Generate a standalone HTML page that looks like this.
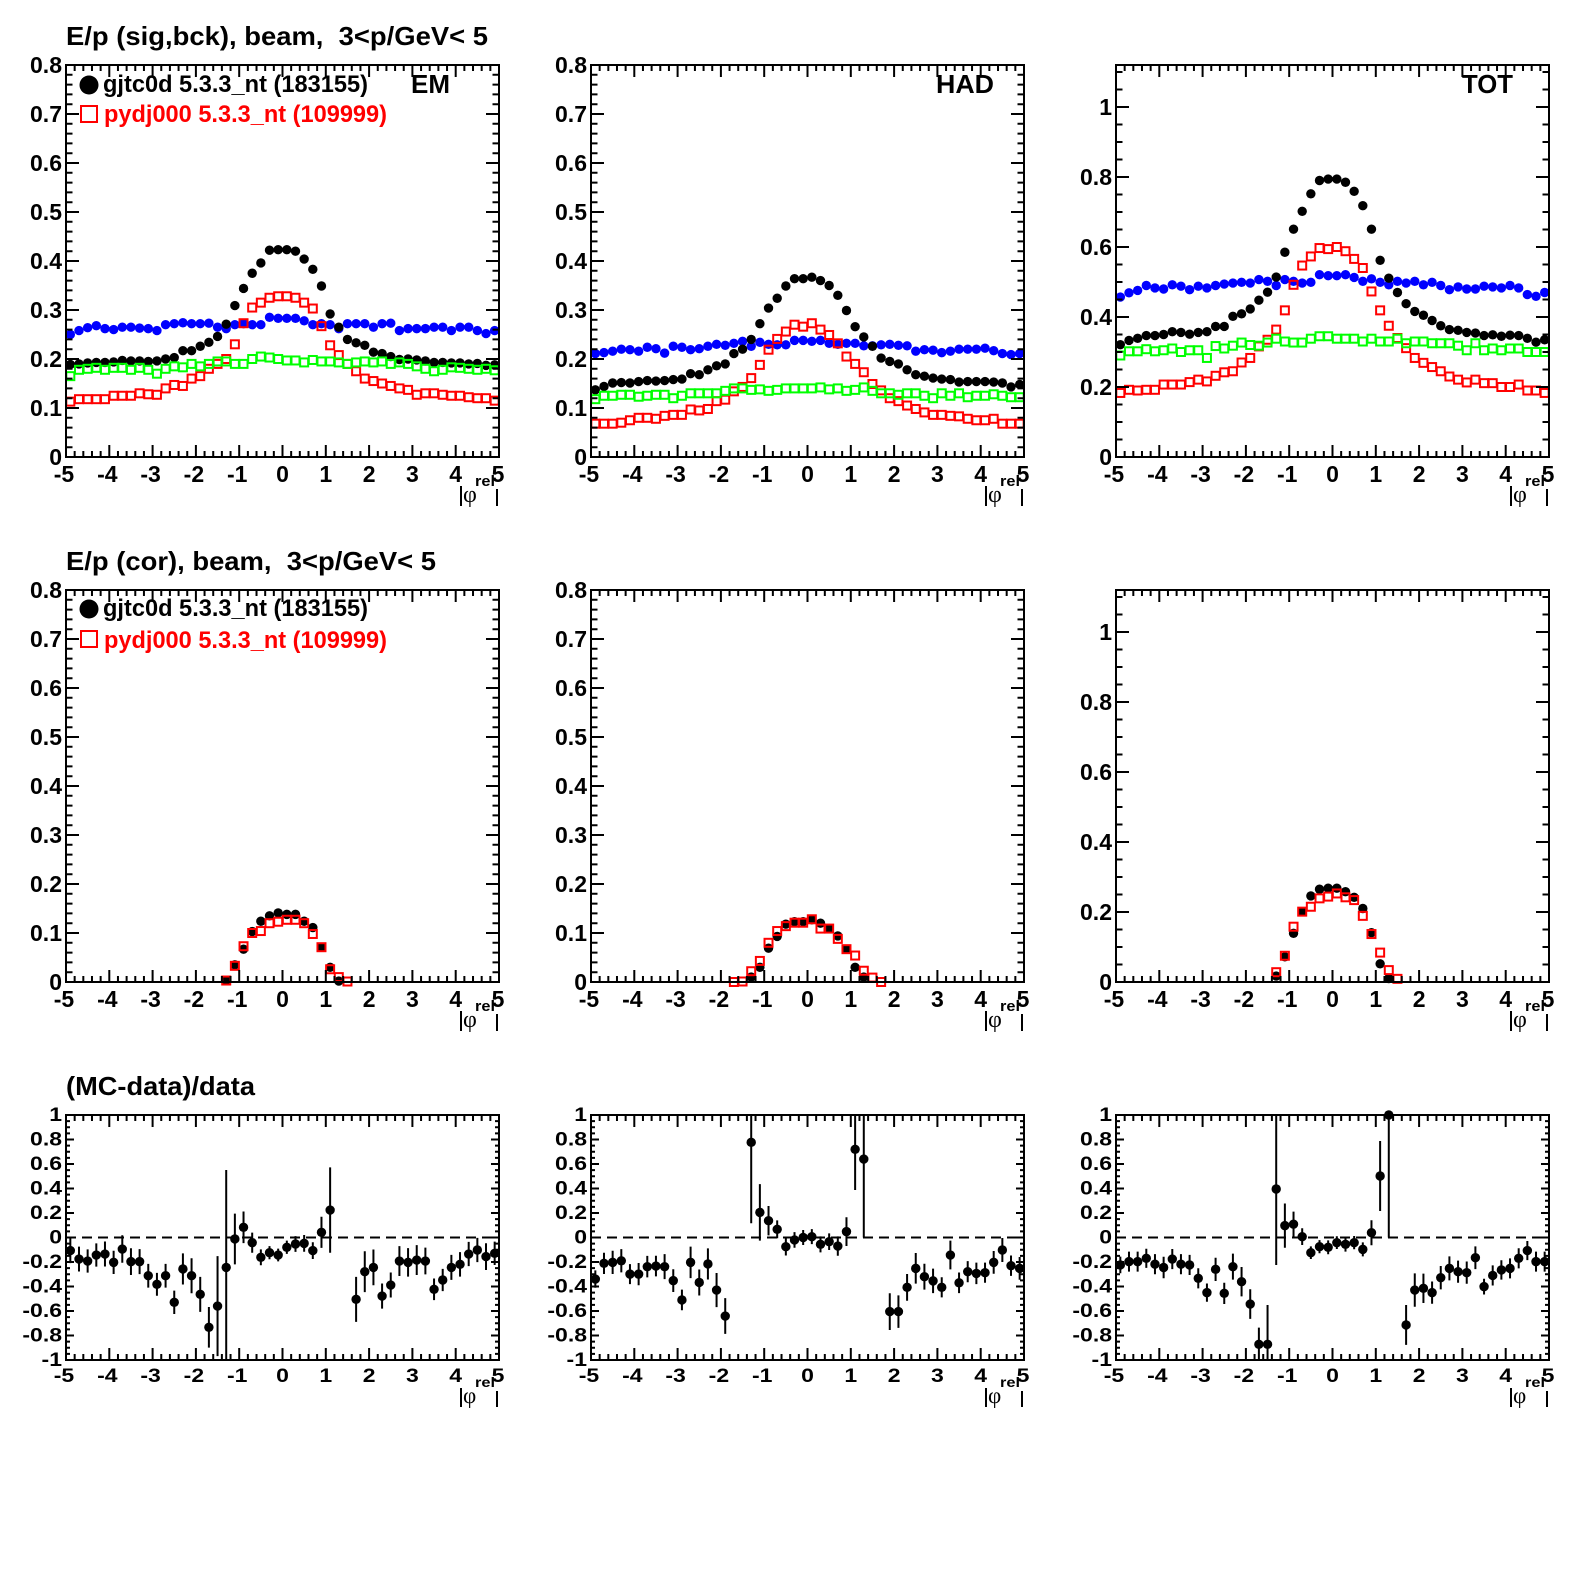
<!DOCTYPE html>
<html><head><meta charset="utf-8">
<style>
html,body{margin:0;padding:0;background:#fff;}
svg{display:block;}
text{font-family:"Liberation Sans",Arial,sans-serif;font-weight:bold;white-space:pre;fill:#000;}
.sym{font-family:"Liberation Serif","DejaVu Serif",serif;font-weight:normal;}
</style></head>
<body>
<svg id="s" xmlns="http://www.w3.org/2000/svg" width="1575" height="1575" viewBox="0 0 1575 1575">
<rect width="1575" height="1575" fill="#fff"/>
<g id="dat"></g>
<path id="ax" d="" fill="none" stroke="#000" stroke-width="2"/>

<!-- Titles -->
<text x="66" y="45" font-size="26" textLength="422" lengthAdjust="spacingAndGlyphs">E/p (sig,bck), beam,  3&lt;p/GeV&lt; 5</text>
<text x="66" y="570" font-size="26" textLength="370" lengthAdjust="spacingAndGlyphs">E/p (cor), beam,  3&lt;p/GeV&lt; 5</text>
<text x="66" y="1095" font-size="26" textLength="189" lengthAdjust="spacingAndGlyphs">(MC-data)/data</text>

<!-- Legends -->
<g>
<circle cx="89" cy="85" r="9.5" fill="#000"/>
<text x="103" y="92" font-size="23.6" textLength="265" lengthAdjust="spacingAndGlyphs">gjtc0d 5.3.3_nt (183155)</text>
<rect x="81" y="106" width="16" height="16" fill="none" stroke="#ff0000" stroke-width="2"/>
<text x="104" y="122" font-size="23.6" textLength="283" lengthAdjust="spacingAndGlyphs" style="fill:#ff0000">pydj000 5.3.3_nt (109999)</text>
</g>
<g transform="translate(0,524)">
<circle cx="89" cy="85" r="9.5" fill="#000"/>
<text x="103" y="92" font-size="23.6" textLength="265" lengthAdjust="spacingAndGlyphs">gjtc0d 5.3.3_nt (183155)</text>
<rect x="81" y="107" width="16" height="16" fill="none" stroke="#ff0000" stroke-width="2"/>
<text x="104" y="124" font-size="23.6" textLength="283" lengthAdjust="spacingAndGlyphs" style="fill:#ff0000">pydj000 5.3.3_nt (109999)</text>
</g>

<!-- Panel labels -->
<text x="411" y="93" font-size="26" textLength="39" lengthAdjust="spacingAndGlyphs">EM</text>
<text x="936" y="93" font-size="26" textLength="58" lengthAdjust="spacingAndGlyphs">HAD</text>
<text x="1462" y="93" font-size="26" textLength="51" lengthAdjust="spacingAndGlyphs">TOT</text>

<!-- EM-type panel labels (0..0.8), rows 1-2, cols 1-2 -->
<g transform="translate(0,0)">
<g font-size="23" text-anchor="end">
<text x="62" y="73">0.8</text><text x="62" y="122">0.7</text><text x="62" y="171">0.6</text><text x="62" y="220">0.5</text><text x="62" y="269">0.4</text><text x="62" y="318">0.3</text><text x="62" y="367">0.2</text><text x="62" y="416">0.1</text><text x="62" y="465">0</text>
</g>
<g font-size="23" text-anchor="middle">
<text x="64" y="482">-5</text><text x="107.3" y="482">-4</text><text x="150.6" y="482">-3</text><text x="193.9" y="482">-2</text><text x="237.2" y="482">-1</text><text x="282.5" y="482">0</text><text x="325.8" y="482">1</text><text x="369.1" y="482">2</text><text x="412.4" y="482">3</text><text x="455.7" y="482">4</text><text x="498" y="482">5</text>
</g>
<line x1="461" y1="486" x2="461" y2="506" stroke="#000" stroke-width="2"/>
<text class="sym" x="463" y="502" font-size="24">φ</text>
<text x="475" y="486" font-size="15" textLength="20" lengthAdjust="spacingAndGlyphs">rel</text>
<line x1="497" y1="489" x2="497" y2="506" stroke="#000" stroke-width="2"/>
</g>

<g transform="translate(525,0)">
<g font-size="23" text-anchor="end">
<text x="62" y="73">0.8</text><text x="62" y="122">0.7</text><text x="62" y="171">0.6</text><text x="62" y="220">0.5</text><text x="62" y="269">0.4</text><text x="62" y="318">0.3</text><text x="62" y="367">0.2</text><text x="62" y="416">0.1</text><text x="62" y="465">0</text>
</g>
<g font-size="23" text-anchor="middle">
<text x="64" y="482">-5</text><text x="107.3" y="482">-4</text><text x="150.6" y="482">-3</text><text x="193.9" y="482">-2</text><text x="237.2" y="482">-1</text><text x="282.5" y="482">0</text><text x="325.8" y="482">1</text><text x="369.1" y="482">2</text><text x="412.4" y="482">3</text><text x="455.7" y="482">4</text><text x="498" y="482">5</text>
</g>
<line x1="461" y1="486" x2="461" y2="506" stroke="#000" stroke-width="2"/>
<text class="sym" x="463" y="502" font-size="24">φ</text>
<text x="475" y="486" font-size="15" textLength="20" lengthAdjust="spacingAndGlyphs">rel</text>
<line x1="497" y1="489" x2="497" y2="506" stroke="#000" stroke-width="2"/>
</g>

<g transform="translate(0,525)">
<g font-size="23" text-anchor="end">
<text x="62" y="73">0.8</text><text x="62" y="122">0.7</text><text x="62" y="171">0.6</text><text x="62" y="220">0.5</text><text x="62" y="269">0.4</text><text x="62" y="318">0.3</text><text x="62" y="367">0.2</text><text x="62" y="416">0.1</text><text x="62" y="465">0</text>
</g>
<g font-size="23" text-anchor="middle">
<text x="64" y="482">-5</text><text x="107.3" y="482">-4</text><text x="150.6" y="482">-3</text><text x="193.9" y="482">-2</text><text x="237.2" y="482">-1</text><text x="282.5" y="482">0</text><text x="325.8" y="482">1</text><text x="369.1" y="482">2</text><text x="412.4" y="482">3</text><text x="455.7" y="482">4</text><text x="498" y="482">5</text>
</g>
<line x1="461" y1="486" x2="461" y2="506" stroke="#000" stroke-width="2"/>
<text class="sym" x="463" y="502" font-size="24">φ</text>
<text x="475" y="486" font-size="15" textLength="20" lengthAdjust="spacingAndGlyphs">rel</text>
<line x1="497" y1="489" x2="497" y2="506" stroke="#000" stroke-width="2"/>
</g>

<g transform="translate(525,525)">
<g font-size="23" text-anchor="end">
<text x="62" y="73">0.8</text><text x="62" y="122">0.7</text><text x="62" y="171">0.6</text><text x="62" y="220">0.5</text><text x="62" y="269">0.4</text><text x="62" y="318">0.3</text><text x="62" y="367">0.2</text><text x="62" y="416">0.1</text><text x="62" y="465">0</text>
</g>
<g font-size="23" text-anchor="middle">
<text x="64" y="482">-5</text><text x="107.3" y="482">-4</text><text x="150.6" y="482">-3</text><text x="193.9" y="482">-2</text><text x="237.2" y="482">-1</text><text x="282.5" y="482">0</text><text x="325.8" y="482">1</text><text x="369.1" y="482">2</text><text x="412.4" y="482">3</text><text x="455.7" y="482">4</text><text x="498" y="482">5</text>
</g>
<line x1="461" y1="486" x2="461" y2="506" stroke="#000" stroke-width="2"/>
<text class="sym" x="463" y="502" font-size="24">φ</text>
<text x="475" y="486" font-size="15" textLength="20" lengthAdjust="spacingAndGlyphs">rel</text>
<line x1="497" y1="489" x2="497" y2="506" stroke="#000" stroke-width="2"/>
</g>

<!-- TOT panels rows 1-2 -->
<g transform="translate(1050,0)">
<g font-size="23" text-anchor="end">
<text x="62" y="115">1</text><text x="62" y="185">0.8</text><text x="62" y="255">0.6</text><text x="62" y="325">0.4</text><text x="62" y="395">0.2</text><text x="62" y="465">0</text>
</g>
<g font-size="23" text-anchor="middle">
<text x="64" y="482">-5</text><text x="107.3" y="482">-4</text><text x="150.6" y="482">-3</text><text x="193.9" y="482">-2</text><text x="237.2" y="482">-1</text><text x="282.5" y="482">0</text><text x="325.8" y="482">1</text><text x="369.1" y="482">2</text><text x="412.4" y="482">3</text><text x="455.7" y="482">4</text><text x="498" y="482">5</text>
</g>
<line x1="461" y1="486" x2="461" y2="506" stroke="#000" stroke-width="2"/>
<text class="sym" x="463" y="502" font-size="24">φ</text>
<text x="475" y="486" font-size="15" textLength="20" lengthAdjust="spacingAndGlyphs">rel</text>
<line x1="497" y1="489" x2="497" y2="506" stroke="#000" stroke-width="2"/>
</g>

<g transform="translate(1050,525)">
<g font-size="23" text-anchor="end">
<text x="62" y="115">1</text><text x="62" y="185">0.8</text><text x="62" y="255">0.6</text><text x="62" y="325">0.4</text><text x="62" y="395">0.2</text><text x="62" y="465">0</text>
</g>
<g font-size="23" text-anchor="middle">
<text x="64" y="482">-5</text><text x="107.3" y="482">-4</text><text x="150.6" y="482">-3</text><text x="193.9" y="482">-2</text><text x="237.2" y="482">-1</text><text x="282.5" y="482">0</text><text x="325.8" y="482">1</text><text x="369.1" y="482">2</text><text x="412.4" y="482">3</text><text x="455.7" y="482">4</text><text x="498" y="482">5</text>
</g>
<line x1="461" y1="486" x2="461" y2="506" stroke="#000" stroke-width="2"/>
<text class="sym" x="463" y="502" font-size="24">φ</text>
<text x="475" y="486" font-size="15" textLength="20" lengthAdjust="spacingAndGlyphs">rel</text>
<line x1="497" y1="489" x2="497" y2="506" stroke="#000" stroke-width="2"/>
</g>

<!-- Row 3 panels -->
<g transform="translate(0,0)">
<g font-size="23" text-anchor="end">
<text transform="translate(62,1121) scale(1,0.85)">1</text>
<text transform="translate(62,1145.5) scale(1,0.85)">0.8</text>
<text transform="translate(62,1170) scale(1,0.85)">0.6</text>
<text transform="translate(62,1194.5) scale(1,0.85)">0.4</text>
<text transform="translate(62,1219) scale(1,0.85)">0.2</text>
<text transform="translate(62,1243.5) scale(1,0.85)">0</text>
<text transform="translate(62,1268) scale(1,0.85)">-0.2</text>
<text transform="translate(62,1292.5) scale(1,0.85)">-0.4</text>
<text transform="translate(62,1317) scale(1,0.85)">-0.6</text>
<text transform="translate(62,1341.5) scale(1,0.85)">-0.8</text>
<text transform="translate(62,1366) scale(1,0.85)">-1</text>
</g>
<g font-size="23" text-anchor="middle">
<text transform="translate(64,1382) scale(1,0.85)">-5</text>
<text transform="translate(107.3,1382) scale(1,0.85)">-4</text>
<text transform="translate(150.6,1382) scale(1,0.85)">-3</text>
<text transform="translate(193.9,1382) scale(1,0.85)">-2</text>
<text transform="translate(237.2,1382) scale(1,0.85)">-1</text>
<text transform="translate(282.5,1382) scale(1,0.85)">0</text>
<text transform="translate(325.8,1382) scale(1,0.85)">1</text>
<text transform="translate(369.1,1382) scale(1,0.85)">2</text>
<text transform="translate(412.4,1382) scale(1,0.85)">3</text>
<text transform="translate(455.7,1382) scale(1,0.85)">4</text>
<text transform="translate(498,1382) scale(1,0.85)">5</text>
</g>
<line x1="461" y1="1388" x2="461" y2="1407" stroke="#000" stroke-width="2"/>
<text class="sym" x="463" y="1403" font-size="23">φ</text>
<text x="475" y="1387" font-size="14" textLength="20" lengthAdjust="spacingAndGlyphs">rel</text>
<line x1="497" y1="1391" x2="497" y2="1407" stroke="#000" stroke-width="2"/>
</g>

<g transform="translate(525,0)">
<g font-size="23" text-anchor="end">
<text transform="translate(62,1121) scale(1,0.85)">1</text>
<text transform="translate(62,1145.5) scale(1,0.85)">0.8</text>
<text transform="translate(62,1170) scale(1,0.85)">0.6</text>
<text transform="translate(62,1194.5) scale(1,0.85)">0.4</text>
<text transform="translate(62,1219) scale(1,0.85)">0.2</text>
<text transform="translate(62,1243.5) scale(1,0.85)">0</text>
<text transform="translate(62,1268) scale(1,0.85)">-0.2</text>
<text transform="translate(62,1292.5) scale(1,0.85)">-0.4</text>
<text transform="translate(62,1317) scale(1,0.85)">-0.6</text>
<text transform="translate(62,1341.5) scale(1,0.85)">-0.8</text>
<text transform="translate(62,1366) scale(1,0.85)">-1</text>
</g>
<g font-size="23" text-anchor="middle">
<text transform="translate(64,1382) scale(1,0.85)">-5</text>
<text transform="translate(107.3,1382) scale(1,0.85)">-4</text>
<text transform="translate(150.6,1382) scale(1,0.85)">-3</text>
<text transform="translate(193.9,1382) scale(1,0.85)">-2</text>
<text transform="translate(237.2,1382) scale(1,0.85)">-1</text>
<text transform="translate(282.5,1382) scale(1,0.85)">0</text>
<text transform="translate(325.8,1382) scale(1,0.85)">1</text>
<text transform="translate(369.1,1382) scale(1,0.85)">2</text>
<text transform="translate(412.4,1382) scale(1,0.85)">3</text>
<text transform="translate(455.7,1382) scale(1,0.85)">4</text>
<text transform="translate(498,1382) scale(1,0.85)">5</text>
</g>
<line x1="461" y1="1388" x2="461" y2="1407" stroke="#000" stroke-width="2"/>
<text class="sym" x="463" y="1403" font-size="23">φ</text>
<text x="475" y="1387" font-size="14" textLength="20" lengthAdjust="spacingAndGlyphs">rel</text>
<line x1="497" y1="1391" x2="497" y2="1407" stroke="#000" stroke-width="2"/>
</g>

<g transform="translate(1050,0)">
<g font-size="23" text-anchor="end">
<text transform="translate(62,1121) scale(1,0.85)">1</text>
<text transform="translate(62,1145.5) scale(1,0.85)">0.8</text>
<text transform="translate(62,1170) scale(1,0.85)">0.6</text>
<text transform="translate(62,1194.5) scale(1,0.85)">0.4</text>
<text transform="translate(62,1219) scale(1,0.85)">0.2</text>
<text transform="translate(62,1243.5) scale(1,0.85)">0</text>
<text transform="translate(62,1268) scale(1,0.85)">-0.2</text>
<text transform="translate(62,1292.5) scale(1,0.85)">-0.4</text>
<text transform="translate(62,1317) scale(1,0.85)">-0.6</text>
<text transform="translate(62,1341.5) scale(1,0.85)">-0.8</text>
<text transform="translate(62,1366) scale(1,0.85)">-1</text>
</g>
<g font-size="23" text-anchor="middle">
<text transform="translate(64,1382) scale(1,0.85)">-5</text>
<text transform="translate(107.3,1382) scale(1,0.85)">-4</text>
<text transform="translate(150.6,1382) scale(1,0.85)">-3</text>
<text transform="translate(193.9,1382) scale(1,0.85)">-2</text>
<text transform="translate(237.2,1382) scale(1,0.85)">-1</text>
<text transform="translate(282.5,1382) scale(1,0.85)">0</text>
<text transform="translate(325.8,1382) scale(1,0.85)">1</text>
<text transform="translate(369.1,1382) scale(1,0.85)">2</text>
<text transform="translate(412.4,1382) scale(1,0.85)">3</text>
<text transform="translate(455.7,1382) scale(1,0.85)">4</text>
<text transform="translate(498,1382) scale(1,0.85)">5</text>
</g>
<line x1="461" y1="1388" x2="461" y2="1407" stroke="#000" stroke-width="2"/>
<text class="sym" x="463" y="1403" font-size="23">φ</text>
<text x="475" y="1387" font-size="14" textLength="20" lengthAdjust="spacingAndGlyphs">rel</text>
<line x1="497" y1="1391" x2="497" y2="1407" stroke="#000" stroke-width="2"/>
</g>
</svg>
<script>
(function(){
var NS='http://www.w3.org/2000/svg';
var gD=document.getElementById('dat');
function mk(t,a){var e=document.createElementNS(NS,t);for(var k in a)e.setAttribute(k,a[k]);gD.appendChild(e);return e;}
var axD='';
function axes(L,T,R,B,y0,y1,maj,mn,xM,xm,yM,ym){
  var d='',k,x,l;
  for(k=0;k<=50;k++){x=(L+(R-L)*k/50).toFixed(2);l=(k%5===0)?xM:xm;d+='M'+x+' '+B+'v'+(-l)+'M'+x+' '+T+'v'+l;}
  var r=Math.round(maj/mn);
  var s=Math.round(y0/mn), e=Math.round(y1/mn+1e-6);
  if(e*mn>y1+1e-6)e--;
  for(var i=s;i<=e;i++){var v=i*mn;var y=(B-(v-y0)/(y1-y0)*(B-T)).toFixed(2);l=((((i%r)+r)%r)===0)?yM:ym;d+='M'+L+' '+y+'h'+l+'M'+R+' '+y+'h'+(-l);}
  d+='M'+L+' '+T+'H'+R+'V'+B+'H'+L+'Z';
  axD+=d;
}
function X(L,R,x){return L+(x+5)/10*(R-L);}
function Y(T,B,y0,y1,v){return B-(v-y0)/(y1-y0)*(B-T);}
function circ(x,y,c){mk('circle',{cx:x.toFixed(2),cy:y.toFixed(2),r:4.7,fill:c});}
function sq(x,y,c){mk('rect',{x:(x-4).toFixed(2),y:(y-4).toFixed(2),width:8,height:8,fill:'none',stroke:c,'stroke-width':2});}

var EMk=[.189,.19,.192,.193,.193,.194,.197,.196,.196,.195,.196,.2,.203,.217,.217,.226,.234,.246,.271,.309,.344,.375,.396,.422,.423,.423,.42,.404,.383,.349,.292,.265,.24,.233,.228,.214,.211,.205,.199,.2,.198,.196,.193,.193,.192,.192,.19,.191,.187,.188];
var EMr=[.113,.118,.118,.118,.118,.125,.125,.125,.13,.128,.127,.14,.147,.145,.16,.165,.18,.19,.2,.23,.273,.305,.315,.325,.328,.328,.325,.315,.303,.267,.228,.208,.19,.175,.16,.155,.15,.145,.14,.137,.127,.13,.13,.127,.125,.125,.122,.12,.12,.115];
var EMb=[.25,.258,.264,.268,.262,.26,.265,.265,.263,.262,.258,.27,.272,.274,.272,.272,.273,.265,.262,.27,.272,.27,.27,.285,.283,.283,.283,.278,.27,.272,.27,.262,.272,.272,.272,.265,.272,.273,.258,.262,.262,.262,.265,.265,.258,.265,.265,.258,.252,.258];
var EMg=[.165,.178,.18,.182,.178,.182,.182,.178,.182,.178,.17,.18,.185,.183,.19,.185,.19,.195,.195,.19,.19,.2,.205,.203,.2,.197,.197,.193,.198,.195,.195,.193,.19,.193,.195,.193,.195,.19,.193,.19,.185,.18,.175,.178,.183,.182,.18,.178,.18,.177];

var HDk=[.137,.144,.151,.152,.151,.154,.156,.155,.156,.158,.159,.17,.168,.178,.186,.19,.211,.22,.24,.272,.304,.324,.349,.364,.364,.367,.36,.35,.33,.299,.266,.245,.226,.202,.195,.19,.178,.168,.165,.161,.159,.158,.153,.154,.154,.154,.153,.151,.143,.148];
var HDr=[.068,.068,.068,.07,.075,.08,.08,.078,.084,.086,.086,.097,.095,.098,.114,.117,.134,.143,.161,.188,.219,.241,.256,.27,.266,.273,.26,.249,.232,.205,.19,.173,.149,.136,.12,.114,.105,.098,.091,.086,.086,.084,.083,.078,.075,.075,.078,.068,.068,.068];
var HDb=[.211,.213,.216,.22,.219,.216,.224,.221,.212,.226,.224,.219,.221,.226,.23,.228,.232,.236,.226,.234,.23,.229,.229,.238,.238,.236,.238,.232,.23,.232,.232,.227,.227,.229,.23,.228,.227,.216,.219,.218,.213,.216,.22,.22,.22,.222,.217,.211,.209,.211];
var HDg=[.118,.125,.125,.127,.127,.123,.125,.127,.127,.12,.125,.13,.13,.13,.13,.135,.14,.14,.137,.138,.135,.137,.14,.14,.14,.14,.142,.138,.14,.135,.137,.142,.135,.13,.13,.127,.13,.13,.125,.12,.13,.125,.13,.122,.125,.125,.128,.125,.122,.122];

var TTk=[.321,.333,.339,.347,.347,.35,.358,.356,.351,.356,.358,.373,.373,.402,.409,.423,.448,.471,.514,.585,.651,.702,.752,.79,.794,.794,.785,.759,.718,.651,.562,.511,.47,.438,.416,.405,.39,.375,.364,.362,.356,.354,.347,.349,.345,.348,.347,.339,.328,.335];
var TTr=[.183,.192,.19,.192,.192,.207,.207,.207,.214,.221,.216,.232,.242,.245,.27,.283,.316,.335,.364,.419,.492,.547,.573,.597,.594,.6,.588,.566,.54,.473,.419,.375,.34,.311,.283,.269,.257,.245,.23,.221,.213,.221,.211,.211,.2,.2,.207,.19,.19,.183];
var TTb=[.457,.469,.476,.49,.483,.48,.492,.488,.478,.488,.483,.49,.494,.497,.499,.497,.507,.502,.49,.507,.502,.497,.499,.521,.518,.518,.521,.513,.502,.509,.499,.492,.502,.497,.502,.492,.499,.49,.478,.486,.48,.48,.488,.486,.483,.49,.483,.464,.459,.47];
var TTg=[.29,.302,.302,.308,.302,.305,.31,.3,.305,.305,.283,.317,.31,.318,.327,.32,.318,.327,.338,.33,.327,.327,.338,.345,.345,.338,.338,.338,.33,.338,.33,.33,.338,.325,.33,.33,.325,.325,.325,.318,.305,.325,.305,.31,.305,.31,.31,.3,.3,.3];

function row1(c,r,y1,K,Rr,Bb,G){
  var L=66+525*c,Rt=499+525*c,T=65+525*r,B=457+525*r,i,x;
  for(i=0;i<50;i++){x=X(L,Rt,-4.9+0.2*i);circ(x,Y(T,B,0,y1,Bb[i]),'#0000ff');}
  for(i=0;i<50;i++){x=X(L,Rt,-4.9+0.2*i);circ(x,Y(T,B,0,y1,K[i]),'#000');}
  for(i=0;i<50;i++){x=X(L,Rt,-4.9+0.2*i);sq(x,Y(T,B,0,y1,Rr[i]),'#ff0000');}
  for(i=0;i<50;i++){x=X(L,Rt,-4.9+0.2*i);sq(x,Y(T,B,0,y1,G[i]),'#00ff00');}
}
row1(0,0,0.8,EMk,EMr,EMb,EMg);
row1(1,0,0.8,HDk,HDr,HDb,HDg);
row1(2,0,1.12,TTk,TTr,TTb,TTg);

var c2EMk=[[-1.3,.003],[-1.1,.035],[-0.9,.067],[-0.7,.103],[-0.5,.124],[-0.3,.135],[-0.1,.141],[0.1,.138],[0.3,.138],[0.5,.124],[0.7,.111],[0.9,.071],[1.1,.03],[1.3,.002]];
var c2EMr=[[-1.3,.003],[-1.1,.033],[-0.9,.073],[-0.7,.1],[-0.5,.104],[-0.3,.12],[-0.1,.123],[0.1,.127],[0.3,.127],[0.5,.12],[0.7,.098],[0.9,.071],[1.1,.026],[1.3,.01],[1.5,.001]];
var c2HDk=[[-1.3,.01],[-1.1,.03],[-0.9,.069],[-0.7,.093],[-0.5,.118],[-0.3,.123],[-0.1,.123],[0.1,.127],[0.3,.12],[0.5,.109],[0.7,.094],[0.9,.067],[1.1,.03],[1.3,.01]];
var c2HDr=[[-1.7,.0],[-1.5,.001],[-1.3,.022],[-1.1,.043],[-0.9,.08],[-0.7,.104],[-0.5,.114],[-0.3,.121],[-0.1,.121],[0.1,.128],[0.3,.109],[0.5,.109],[0.7,.088],[0.9,.067],[1.1,.054],[1.3,.023],[1.5,.009],[1.7,.0]];
var c2TTk=[[-1.3,.017],[-1.1,.072],[-0.9,.139],[-0.7,.201],[-0.5,.246],[-0.3,.265],[-0.1,.268],[0.1,.268],[0.3,.258],[0.5,.242],[0.7,.21],[0.9,.141],[1.1,.052],[1.3,.01]];
var c2TTr=[[-1.3,.028],[-1.1,.075],[-0.9,.158],[-0.7,.201],[-0.5,.215],[-0.3,.239],[-0.1,.244],[0.1,.253],[0.3,.242],[0.5,.234],[0.7,.189],[0.9,.137],[1.1,.084],[1.3,.034],[1.5,.009]];
function row2(c,y1,K,Rr){
  var L=66+525*c,Rt=499+525*c,T=590,B=982,i;
  for(i=0;i<K.length;i++)circ(X(L,Rt,K[i][0]),Y(T,B,0,y1,K[i][1]),'#000');
  for(i=0;i<Rr.length;i++)sq(X(L,Rt,Rr[i][0]),Y(T,B,0,y1,Rr[i][1]),'#ff0000');
}
row2(0,0.8,c2EMk,c2EMr);
row2(1,0.8,c2HDk,c2HDr);
row2(2,1.12,c2TTk,c2TTr);

var r3EM=[[-4.9,-.107,.102],[-4.7,-.176,.102],[-4.5,-.192,.095],[-4.3,-.143,.095],[-4.1,-.135,.102],[-3.9,-.203,.095],[-3.7,-.094,.112],[-3.5,-.197,.109],[-3.3,-.197,.102],[-3.1,-.312,.097],[-2.9,-.382,.093],[-2.7,-.312,.097],[-2.5,-.529,.095],[-2.3,-.257,.127],[-2.1,-.312,.143],[-1.9,-.464,.143],[-1.7,-.733,.166],[-1.5,-.56,.408],[-1.3,-.244,.795],[-1.1,-.012,.207],[-0.9,.083,.129],[-0.7,-.042,.082],[-0.5,-.162,.065],[-0.3,-.124,.054],[-0.1,-.143,.052],[0.1,-.08,.054],[0.3,-.053,.064],[0.5,-.048,.068],[0.7,-.107,.068],[0.9,.042,.127],[1.1,.224,.348],[1.7,-.505,.184],[1.9,-.279,.167],[2.1,-.244,.146],[2.3,-.478,.103],[2.5,-.388,.102],[2.7,-.192,.122],[2.9,-.203,.116],[3.1,-.184,.122],[3.3,-.192,.109],[3.5,-.423,.088],[3.7,-.347,.091],[3.9,-.244,.102],[4.1,-.219,.1],[4.3,-.135,.099],[4.5,-.102,.099],[4.7,-.156,.109],[4.9,-.129,.095]];
var r3HD=[[-4.9,-.339,.071],[-4.7,-.211,.087],[-4.5,-.203,.095],[-4.3,-.19,.095],[-4.1,-.299,.082],[-3.9,-.299,.091],[-3.7,-.238,.088],[-3.5,-.233,.084],[-3.3,-.238,.102],[-3.1,-.352,.093],[-2.9,-.51,.084],[-2.7,-.203,.129],[-2.5,-.367,.106],[-2.3,-.216,.127],[-2.1,-.429,.139],[-1.9,-.641,.146],[-1.3,.777,.661],[-1.1,.205,.231],[-0.9,.137,.12],[-0.7,.067,.073],[-0.5,-.075,.072],[-0.3,-.02,.064],[-0.1,0,.061],[0.1,.007,.061],[0.3,-.056,.065],[0.5,-.034,.068],[0.7,-.07,.079],[0.9,.048,.117],[1.1,.72,.332],[1.3,.64,.64],[1.9,-.605,.15],[2.1,-.605,.133],[2.3,-.407,.109],[2.5,-.252,.125],[2.7,-.32,.106],[2.9,-.354,.1],[3.1,-.407,.082],[3.3,-.143,.117],[3.5,-.37,.084],[3.7,-.279,.086],[3.9,-.293,.088],[4.1,-.287,.082],[4.3,-.203,.093],[4.5,-.102,.098],[4.7,-.23,.083],[4.9,-.252,.093]];
var r3TT=[[-4.9,-.224,.068],[-4.7,-.197,.082],[-4.5,-.197,.082],[-4.3,-.17,.078],[-4.1,-.218,.082],[-3.9,-.245,.088],[-3.7,-.176,.082],[-3.5,-.218,.082],[-3.3,-.224,.082],[-3.1,-.333,.082],[-2.9,-.45,.075],[-2.7,-.26,.095],[-2.5,-.456,.087],[-2.3,-.238,.106],[-2.1,-.361,.12],[-1.9,-.543,.121],[-1.7,-.872,.136],[-1.5,-.872,.321],[-1.3,.396,.62],[-1.1,.097,.181],[-0.9,.109,.102],[-0.7,.007,.068],[-0.5,-.124,.052],[-0.3,-.075,.054],[-0.1,-.08,.057],[0.1,-.042,.052],[0.3,-.056,.059],[0.5,-.042,.054],[0.7,-.097,.057],[0.9,.039,.102],[1.1,.502,.286],[1.3,1.0,1.0],[1.7,-.714,.163],[1.9,-.429,.136],[2.1,-.415,.12],[2.3,-.45,.091],[2.5,-.328,.095],[2.7,-.252,.098],[2.9,-.279,.09],[3.1,-.287,.091],[3.3,-.165,.093],[3.5,-.401,.064],[3.7,-.31,.082],[3.9,-.265,.079],[4.1,-.252,.082],[4.3,-.17,.082],[4.5,-.107,.078],[4.7,-.197,.082],[4.9,-.197,.082]];
function row3(c,D){
  var L=66+525*c,Rt=499+525*c,T=1115,B=1360,i;
  var y0=Y(T,B,-1,1,0);
  mk('line',{x1:L,y1:y0,x2:Rt,y2:y0,stroke:'#000','stroke-width':2,'stroke-dasharray':'10 6'});
  var d='';
  for(i=0;i<D.length;i++){
    var x=X(L,Rt,D[i][0]).toFixed(2);
    var top=Math.min(1,D[i][1]+D[i][2]),bot=Math.max(-1,D[i][1]-D[i][2]);
    d+='M'+x+' '+Y(T,B,-1,1,top).toFixed(2)+'V'+Y(T,B,-1,1,bot).toFixed(2);
  }
  mk('path',{d:d,stroke:'#000','stroke-width':2,fill:'none'});
  for(i=0;i<D.length;i++)circ(X(L,Rt,D[i][0]),Y(T,B,-1,1,D[i][1]),'#000');
}
row3(0,r3EM);row3(1,r3HD);row3(2,r3TT);

for(var c=0;c<3;c++){
  var L=66+525*c,Rt=499+525*c;
  for(var r=0;r<2;r++){
    var T=65+525*r,B=457+525*r;
    if(c<2)axes(L,T,Rt,B,0,0.8,0.1,0.02,12,6,13,6.5);
    else axes(L,T,Rt,B,0,1.12,0.2,0.05,12,6,13,6.5);
  }
  axes(L,1115,Rt,1360,-1,1,0.2,0.05,12,6,8,4);
}
document.getElementById('ax').setAttribute('d',axD);
})();
</script>
</body></html>
